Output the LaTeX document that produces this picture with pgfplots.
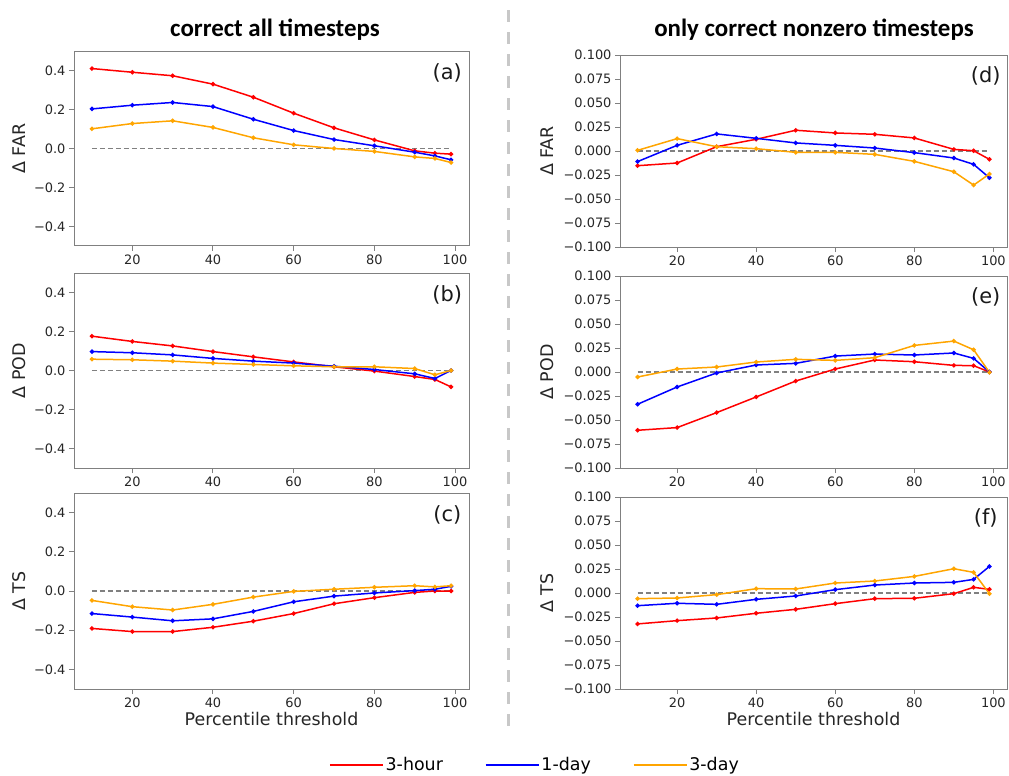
\documentclass[border=0pt]{standalone}
\usepackage{fontspec}
\setmainfont{DejaVu Sans}
\newfontfamily\titlefont{Carlito}
\usepackage{pgfplots}
\usepackage{pgfplotstable}
\pgfplotsset{compat=1.18}

\definecolor{mred}{RGB}{255,0,0}
\definecolor{mblue}{RGB}{0,0,255}
\definecolor{morange}{RGB}{255,165,0}
\definecolor{frame}{RGB}{128,128,128}
\definecolor{divider}{RGB}{200,200,200}

% columns: threshold, 3-hour, 1-day, 3-day
\pgfplotstableread{
x r b o
10 0.410 0.203 0.101
20 0.391 0.222 0.128
30 0.373 0.236 0.142
40 0.330 0.215 0.108
50 0.263 0.150 0.055
60 0.181 0.092 0.019
70 0.106 0.046 0.000
80 0.044 0.014 -0.015
90 -0.012 -0.019 -0.043
95 -0.024 -0.038 -0.051
99 -0.029 -0.058 -0.072
}\tabA
\pgfplotstableread{
x r b o
10 0.176 0.097 0.058
20 0.149 0.091 0.055
30 0.126 0.080 0.048
40 0.097 0.062 0.038
50 0.070 0.048 0.031
60 0.044 0.038 0.024
70 0.019 0.022 0.019
80 -0.003 0.005 0.019
90 -0.031 -0.017 0.010
95 -0.046 -0.041 -0.022
99 -0.084 0.000 0.000
}\tabB
\pgfplotstableread{
x r b o
10 -0.191 -0.115 -0.048
20 -0.207 -0.133 -0.080
30 -0.207 -0.152 -0.097
40 -0.185 -0.142 -0.068
50 -0.154 -0.104 -0.031
60 -0.115 -0.055 -0.002
70 -0.065 -0.026 0.009
80 -0.034 -0.010 0.019
90 -0.007 0.002 0.027
95 0.000 0.009 0.021
99 0.000 0.024 0.027
}\tabC
\pgfplotstableread{
x r b o
10 -0.0153 -0.0110 0.0007
20 -0.0125 0.0059 0.0129
30 0.0045 0.0178 0.0045
40 0.0122 0.0132 0.0024
50 0.0216 0.0084 -0.0014
60 0.0188 0.0059 -0.0014
70 0.0174 0.0031 -0.0035
80 0.0136 -0.0017 -0.0108
90 0.0017 -0.0073 -0.0216
95 0.0003 -0.0139 -0.0355
99 -0.0087 -0.0279 -0.0240
}\tabD
\pgfplotstableread{
x r b o
10 -0.0607 -0.0336 -0.0052
20 -0.0579 -0.0156 0.0031
30 -0.0423 -0.0010 0.0052
40 -0.0260 0.0073 0.0104
50 -0.0094 0.0090 0.0132
60 0.0031 0.0166 0.0121
70 0.0125 0.0187 0.0149
80 0.0107 0.0177 0.0277
90 0.0069 0.0198 0.0322
95 0.0066 0.0142 0.0232
99 0.0000 0.0000 -0.0003
}\tabE
\pgfplotstableread{
x r b o
10 -0.0322 -0.0132 -0.0059
20 -0.0288 -0.0107 -0.0052
30 -0.0260 -0.0118 -0.0017
40 -0.0211 -0.0066 0.0045
50 -0.0170 -0.0031 0.0042
60 -0.0111 0.0035 0.0104
70 -0.0059 0.0083 0.0125
80 -0.0055 0.0104 0.0173
90 -0.0007 0.0111 0.0253
95 0.0059 0.0142 0.0215
99 0.0038 0.0277 -0.0007
}\tabF

\newcommand\labfont{\fontsize{17.5}{20}\selectfont}
\pgfplotsset{
  panel/.style={
    scale only axis, anchor=north west,
    xmin=5.55, xmax=103.45,
    xtick={20,40,60,80,100},
    axis line style={frame, line width=1bp},
    tick style={frame, line width=1bp},
    tick align=outside, major tick length=5bp,
    xtick pos=bottom, ytick pos=left,
    tick label style={font=\fontsize{13}{15}\selectfont, text=black!85},
    /pgf/number format/assume math mode=true,
    every axis plot/.append style={line width=1.5bp, mark=*, mark size=1.4bp},
  },
  leftp/.style={panel, width=395bp,
    ymin=-0.5, ymax=0.5,
    ytick={-0.4,-0.2,0,0.2,0.4},
    yticklabels={−0.4,−0.2,0.0,0.2,0.4},
    every axis y label/.style={at={(-0.139,0.5)}, anchor=center, rotate=90,
      font=\labfont, text=black!85},
  },
  rightp/.style={panel, width=387bp, height=192bp,
    ymin=-0.1, ymax=0.1,
    ytick={-0.1,-0.075,-0.05,-0.025,0,0.025,0.05,0.075,0.1},
    yticklabels={−0.100,−0.075,−0.050,−0.025,0.000,0.025,0.050,0.075,0.100},
    every axis y label/.style={at={(-0.1886,0.5)}, anchor=center, rotate=90,
      font=\labfont, text=black!85},
  },
  zero/.style={gray, line width=1.2bp, mark=none, dash pattern=on 5bp off 3bp, forget plot},
}
\newcommand\tag[1]{\node[font=\fontsize{21}{24}\selectfont, text=black!90] at (rel axis cs:0.945,0.89) {#1};}
\newcommand\series[1]{%
  \addplot[zero] coordinates {(10,0) (99,0)};
  \addplot[mred, mark options={fill=mred}] table[x=x, y=r] {#1};
  \addplot[mblue, mark options={fill=mblue}] table[x=x, y=b] {#1};
  \addplot[morange, mark options={fill=morange}] table[x=x, y=o] {#1};
}

\begin{document}
\begin{tikzpicture}
\path[use as bounding box] (0bp,0bp) rectangle (1009bp,-776bp);

\node[font=\titlefont\bfseries\fontsize{25}{30}\selectfont] at (275bp,-30bp) {correct all timesteps};
\node[font=\titlefont\bfseries\fontsize{25}{30}\selectfont] at (814bp,-30bp) {only correct nonzero timesteps};
\draw[divider, line width=3bp, dash pattern=on 12bp off 10bp] (508bp,-10bp) -- (508bp,-731bp);

% left column
\begin{axis}[leftp, at={(74bp,-51bp)}, height=195bp, ylabel={Δ FAR}]
\series{\tabA}
\tag{(a)}
\end{axis}
\begin{axis}[leftp, at={(74bp,-273bp)}, height=195bp, ylabel={Δ POD}]
\series{\tabB}
\tag{(b)}
\end{axis}
\begin{axis}[leftp, at={(74bp,-493bp)}, height=196bp, ylabel={Δ TS},
  xlabel={Percentile threshold},
  every axis x label/.style={at={(0.5,-0.153)}, anchor=center, font=\labfont, text=black!85},
  legend columns=3,
  legend style={at={(1.167,-0.388)}, anchor=center, draw=none, fill=none,
    font=\labfont,
    /tikz/every even column/.append style={column sep=40bp}},
  legend image code/.code={\draw[#1, mark=none] (0bp,0bp) -- (53bp,0bp);},
]
\series{\tabC}
\legend{3-hour,1-day,3-day}
\tag{(c)}
\end{axis}

% right column
\begin{axis}[rightp, at={(620bp,-55bp)}, ylabel={Δ FAR}]
\series{\tabD}
\tag{(d)}
\end{axis}
\begin{axis}[rightp, at={(620bp,-276bp)}, ylabel={Δ POD}]
\series{\tabE}
\tag{(e)}
\end{axis}
\begin{axis}[rightp, at={(620bp,-497bp)}, ylabel={Δ TS},
  xlabel={Percentile threshold},
  every axis x label/.style={at={(0.5,-0.156)}, anchor=center, font=\labfont, text=black!85},
]
\series{\tabF}
\tag{(f)}
\end{axis}
\end{tikzpicture}
\end{document}
